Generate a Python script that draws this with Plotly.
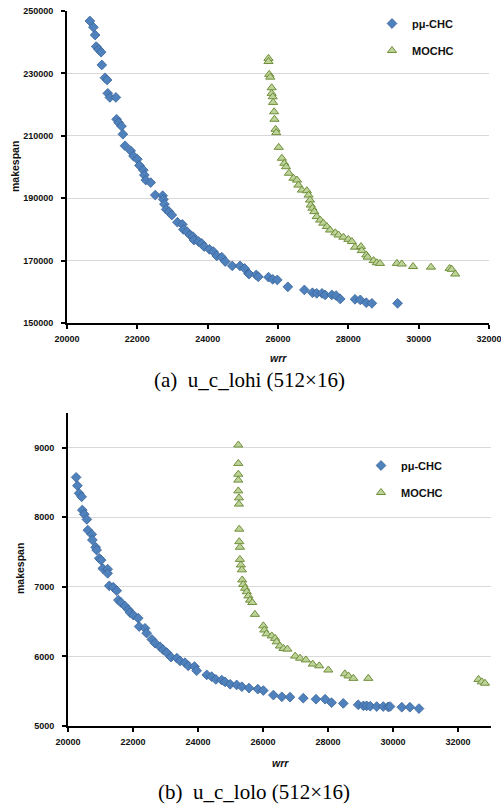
import plotly.graph_objects as go

# ---------------- (a) u_c_lohi (512x16) ----------------
lohi_pchc_wrr = [20650, 20750, 20800, 20830, 20900, 20970, 20990, 21080, 21140, 21160,
                 21220, 21390, 21410, 21470, 21550, 21590, 21650, 21810, 21890, 22000,
                 22060, 22170, 22200, 22240, 22380, 22510, 22720, 22740, 22770, 22820,
                 22900, 22980, 23140, 23280, 23310, 23410, 23500, 23580, 23610, 23740,
                 23830, 23900, 24050, 24160, 24260, 24400, 24500, 24700, 24920, 25050,
                 25160, 25180, 25380, 25440, 25730, 25850, 25980, 26280, 26750, 26980,
                 27100, 27250, 27340, 27530, 27650, 27770, 28190, 28340, 28510, 28670,
                 29400]
lohi_pchc_makespan = [246800, 244800, 242300, 238600, 237700, 236800, 232700, 228600, 227900, 223600,
                      222300, 222300, 215300, 214200, 213100, 210500, 206800, 205200, 203500, 202500,
                      200500, 199000, 197400, 195800, 195000, 191000, 190800, 189600, 188100, 186400,
                      185700, 184600, 182300, 181600, 180000, 179300, 178200, 177700, 176600, 176100,
                      175500, 174500, 173600, 172900, 171500, 171100, 169700, 168300, 168300, 167500,
                      165900, 165700, 165400, 164800, 164700, 164000, 163800, 161600, 160600, 159700,
                      159500, 159500, 159000, 159000, 158800, 157700, 157600, 157400, 156500, 156300,
                      156300]
lohi_mochc_wrr = [25730, 25730, 25750, 25780, 25820, 25820, 25850, 25860, 25890, 25900,
                  25930, 25950, 26020, 26110, 26180, 26230, 26310, 26440, 26540, 26580,
                  26680, 26820, 26870, 26910, 26930, 26980, 27030, 27100, 27200, 27290,
                  27390, 27480, 27630, 27720, 27860, 28000, 28100, 28190, 28360, 28380,
                  28510, 28550, 28720, 28810, 28900, 29380, 29520, 29840, 30350, 30880,
                  30940, 31040]
lohi_mochc_makespan = [234800, 233800, 229700, 228800, 225400, 223600, 222500, 220700, 217700, 215300,
                       212100, 211000, 206300, 202800, 201200, 200100, 198000, 196400, 195800, 194200,
                       192600, 192400, 191000, 189400, 187800, 186800, 185700, 184100, 183000, 182000,
                       180900, 179800, 178900, 178200, 177500, 176800, 176100, 174300, 174500, 173200,
                       171800, 171100, 170000, 169300, 169100, 169100, 168900, 168100, 167900, 167500,
                       167200, 165700]

# ---------------- (b) u_c_lolo (512x16) ----------------
lolo_pchc_wrr = [20250, 20290, 20340, 20420, 20440, 20500, 20580, 20610, 20730, 20750,
                 20850, 20880, 20960, 21020, 21070, 21220, 21220, 21270, 21390, 21500,
                 21550, 21630, 21750, 21860, 21910, 22010, 22160, 22190, 22370, 22420,
                 22580, 22680, 22830, 22930, 23040, 23170, 23350, 23450, 23600, 23700,
                 23890, 23960, 24270, 24420, 24550, 24730, 24830, 24990, 25190, 25350,
                 25570, 25840, 26010, 26320, 26580, 26830, 27240, 27630, 27910, 28110,
                 28470, 28930, 29090, 29190, 29300, 29500, 29700, 29850, 29910, 30270,
                 30520, 30800]
lolo_pchc_makespan = [8575, 8455, 8345, 8295, 8105, 8045, 7970, 7815, 7755, 7675,
                      7570, 7530, 7410, 7385, 7265, 7255, 7195, 7015, 6995, 6945,
                      6810, 6775, 6725, 6670, 6630, 6595, 6550, 6430, 6405, 6335,
                      6245, 6190, 6140, 6095, 6055, 5990, 5975, 5935, 5910, 5865,
                      5855, 5795, 5735, 5710, 5670, 5660, 5635, 5600, 5590, 5565,
                      5545, 5530, 5510, 5445, 5420, 5415, 5400, 5385, 5385, 5335,
                      5325, 5305, 5290, 5290, 5285, 5280, 5280, 5275, 5280, 5270,
                      5270, 5250]
lolo_mochc_wrr = [25240, 25240, 25240, 25240, 25240, 25260, 25260, 25270, 25270, 25290,
                  25290, 25320, 25350, 25360, 25390, 25450, 25500, 25550, 25600, 25670,
                  25750, 26010, 26040, 26110, 26270, 26370, 26420, 26520, 26630, 26750,
                  26990, 27140, 27320, 27530, 27730, 28010, 28520, 28630, 28780, 29240,
                  32630, 32730, 32830]
lolo_mochc_makespan = [9040, 8775, 8620, 8535, 8380, 8280, 8190, 7830, 7650, 7570,
                       7395, 7315, 7245, 7100, 7035, 6980, 6930, 6870, 6810, 6775,
                       6605, 6440, 6380, 6325, 6295, 6260, 6210, 6150, 6115, 6105,
                       6005, 5975, 5950, 5890, 5865, 5805, 5750, 5720, 5685, 5685,
                       5670, 5635, 5615]

# tick values
lohi_y_ticks = [150000, 170000, 190000, 210000, 230000, 250000]
lolo_y_ticks = [5000, 6000, 7000, 8000, 9000]
x_ticks_a = [20000, 22000, 24000, 26000, 28000, 30000, 32000]
x_ticks_b = [20000, 22000, 24000, 26000, 28000, 30000, 32000]

W, H = 501, 805
def fx(p):
    return p / W
def fy(p):
    return 1 - p / H

BLUE, BLUE_EDGE = "#4F81BD", "#3A6397"
GREEN, GREEN_EDGE = "#BDD398", "#6F8E3A"
TICKFONT = dict(family="Liberation Sans", size=9, color="#111111", weight="bold")

fig = go.Figure()

def add_pair(xa, ya, bw, bm, gw, gm, legend):
    fig.add_trace(go.Scatter(
        x=bw, y=bm, mode="markers", name="pμ-CHC", xaxis=xa, yaxis=ya,
        legend=legend, legendgroup=legend + "a",
        marker=dict(symbol="diamond", size=7.5, color=BLUE,
                    line=dict(color=BLUE_EDGE, width=0.8))))
    fig.add_trace(go.Scatter(
        x=gw, y=gm, mode="markers", name="MOCHC", xaxis=xa, yaxis=ya,
        legend=legend, legendgroup=legend + "b",
        marker=dict(symbol="triangle-up", size=8, color=GREEN,
                    line=dict(color=GREEN_EDGE, width=1))))

add_pair("x", "y", lohi_pchc_wrr, lohi_pchc_makespan, lohi_mochc_wrr, lohi_mochc_makespan, "legend")
add_pair("x2", "y2", lolo_pchc_wrr, lolo_pchc_makespan, lolo_mochc_wrr, lolo_mochc_makespan, "legend2")

xcommon = dict(showgrid=False, zeroline=False, showline=True, linecolor="black", linewidth=2,
               ticks="outside", ticklen=4, tickwidth=1.5, tickcolor="black",
               tickfont=TICKFONT, ticklabelstandoff=2, tickformat="d",
               ticklabeloverflow="allow", automargin=False)
ycommon = dict(showgrid=True, gridcolor="#D9D9D9", gridwidth=1, zeroline=False,
               showline=True, linecolor="black", linewidth=2,
               ticks="outside", ticklen=4, tickwidth=1.5, tickcolor="black",
               tickfont=TICKFONT, ticklabelstandoff=6, tickformat="d",
               automargin=False)

legfont = dict(family="Liberation Sans", size=11, color="#111111", weight="bold")

fig.update_layout(
    width=W, height=H,
    margin=dict(l=0, r=0, t=0, b=0),
    paper_bgcolor="white", plot_bgcolor="white",
    xaxis=dict(xcommon, domain=[fx(67), fx(489)], range=[20000, 32000],
               tickvals=x_ticks_a, anchor="y"),
    yaxis=dict(ycommon, domain=[fy(323), fy(11)], range=[150000, 250000],
               tickvals=lohi_y_ticks, anchor="x"),
    xaxis2=dict(xcommon, domain=[fx(68), fx(490.5)], range=[20000, 33000],
                tickvals=x_ticks_b, anchor="y2"),
    yaxis2=dict(ycommon, domain=[fy(726), fy(413)], range=[5000, 9500],
                tickvals=lolo_y_ticks, anchor="x2"),
    legend=dict(x=fx(372), y=fy(9), xanchor="left", yanchor="top",
                font=legfont, tracegroupgap=8, bgcolor="rgba(0,0,0,0)"),
    legend2=dict(x=fx(361), y=fy(451), xanchor="left", yanchor="top",
                 font=legfont, tracegroupgap=8, bgcolor="rgba(0,0,0,0)"),
    showlegend=True,
)

title_font = dict(family="Liberation Sans", size=10.5, color="#111111", weight="bold")
cap_font = dict(family="Liberation Serif", size=21, color="black")
anns = [
    dict(text="makespan", x=fx(15), y=fy(167), textangle=-90, font=title_font),
    dict(text="makespan", x=fx(20), y=fy(569), textangle=-90, font=title_font),
    dict(text="<i>wrr</i>", x=fx(278), y=fy(358), font=title_font),
    dict(text="<i>wrr</i>", x=fx(280), y=fy(763), font=title_font),
    dict(text="(a)  u_c_lohi (512×16)", x=fx(249), y=fy(380), font=cap_font),
    dict(text="(b)  u_c_lolo (512×16)", x=fx(254), y=fy(792), font=cap_font),
]
for a in anns:
    fig.add_annotation(xref="paper", yref="paper", showarrow=False,
                       xanchor="center", yanchor="middle", **a)

fig.write_html("out.html", config={"displayModeBar": False},
               post_script="document.body.style.margin='0';")
